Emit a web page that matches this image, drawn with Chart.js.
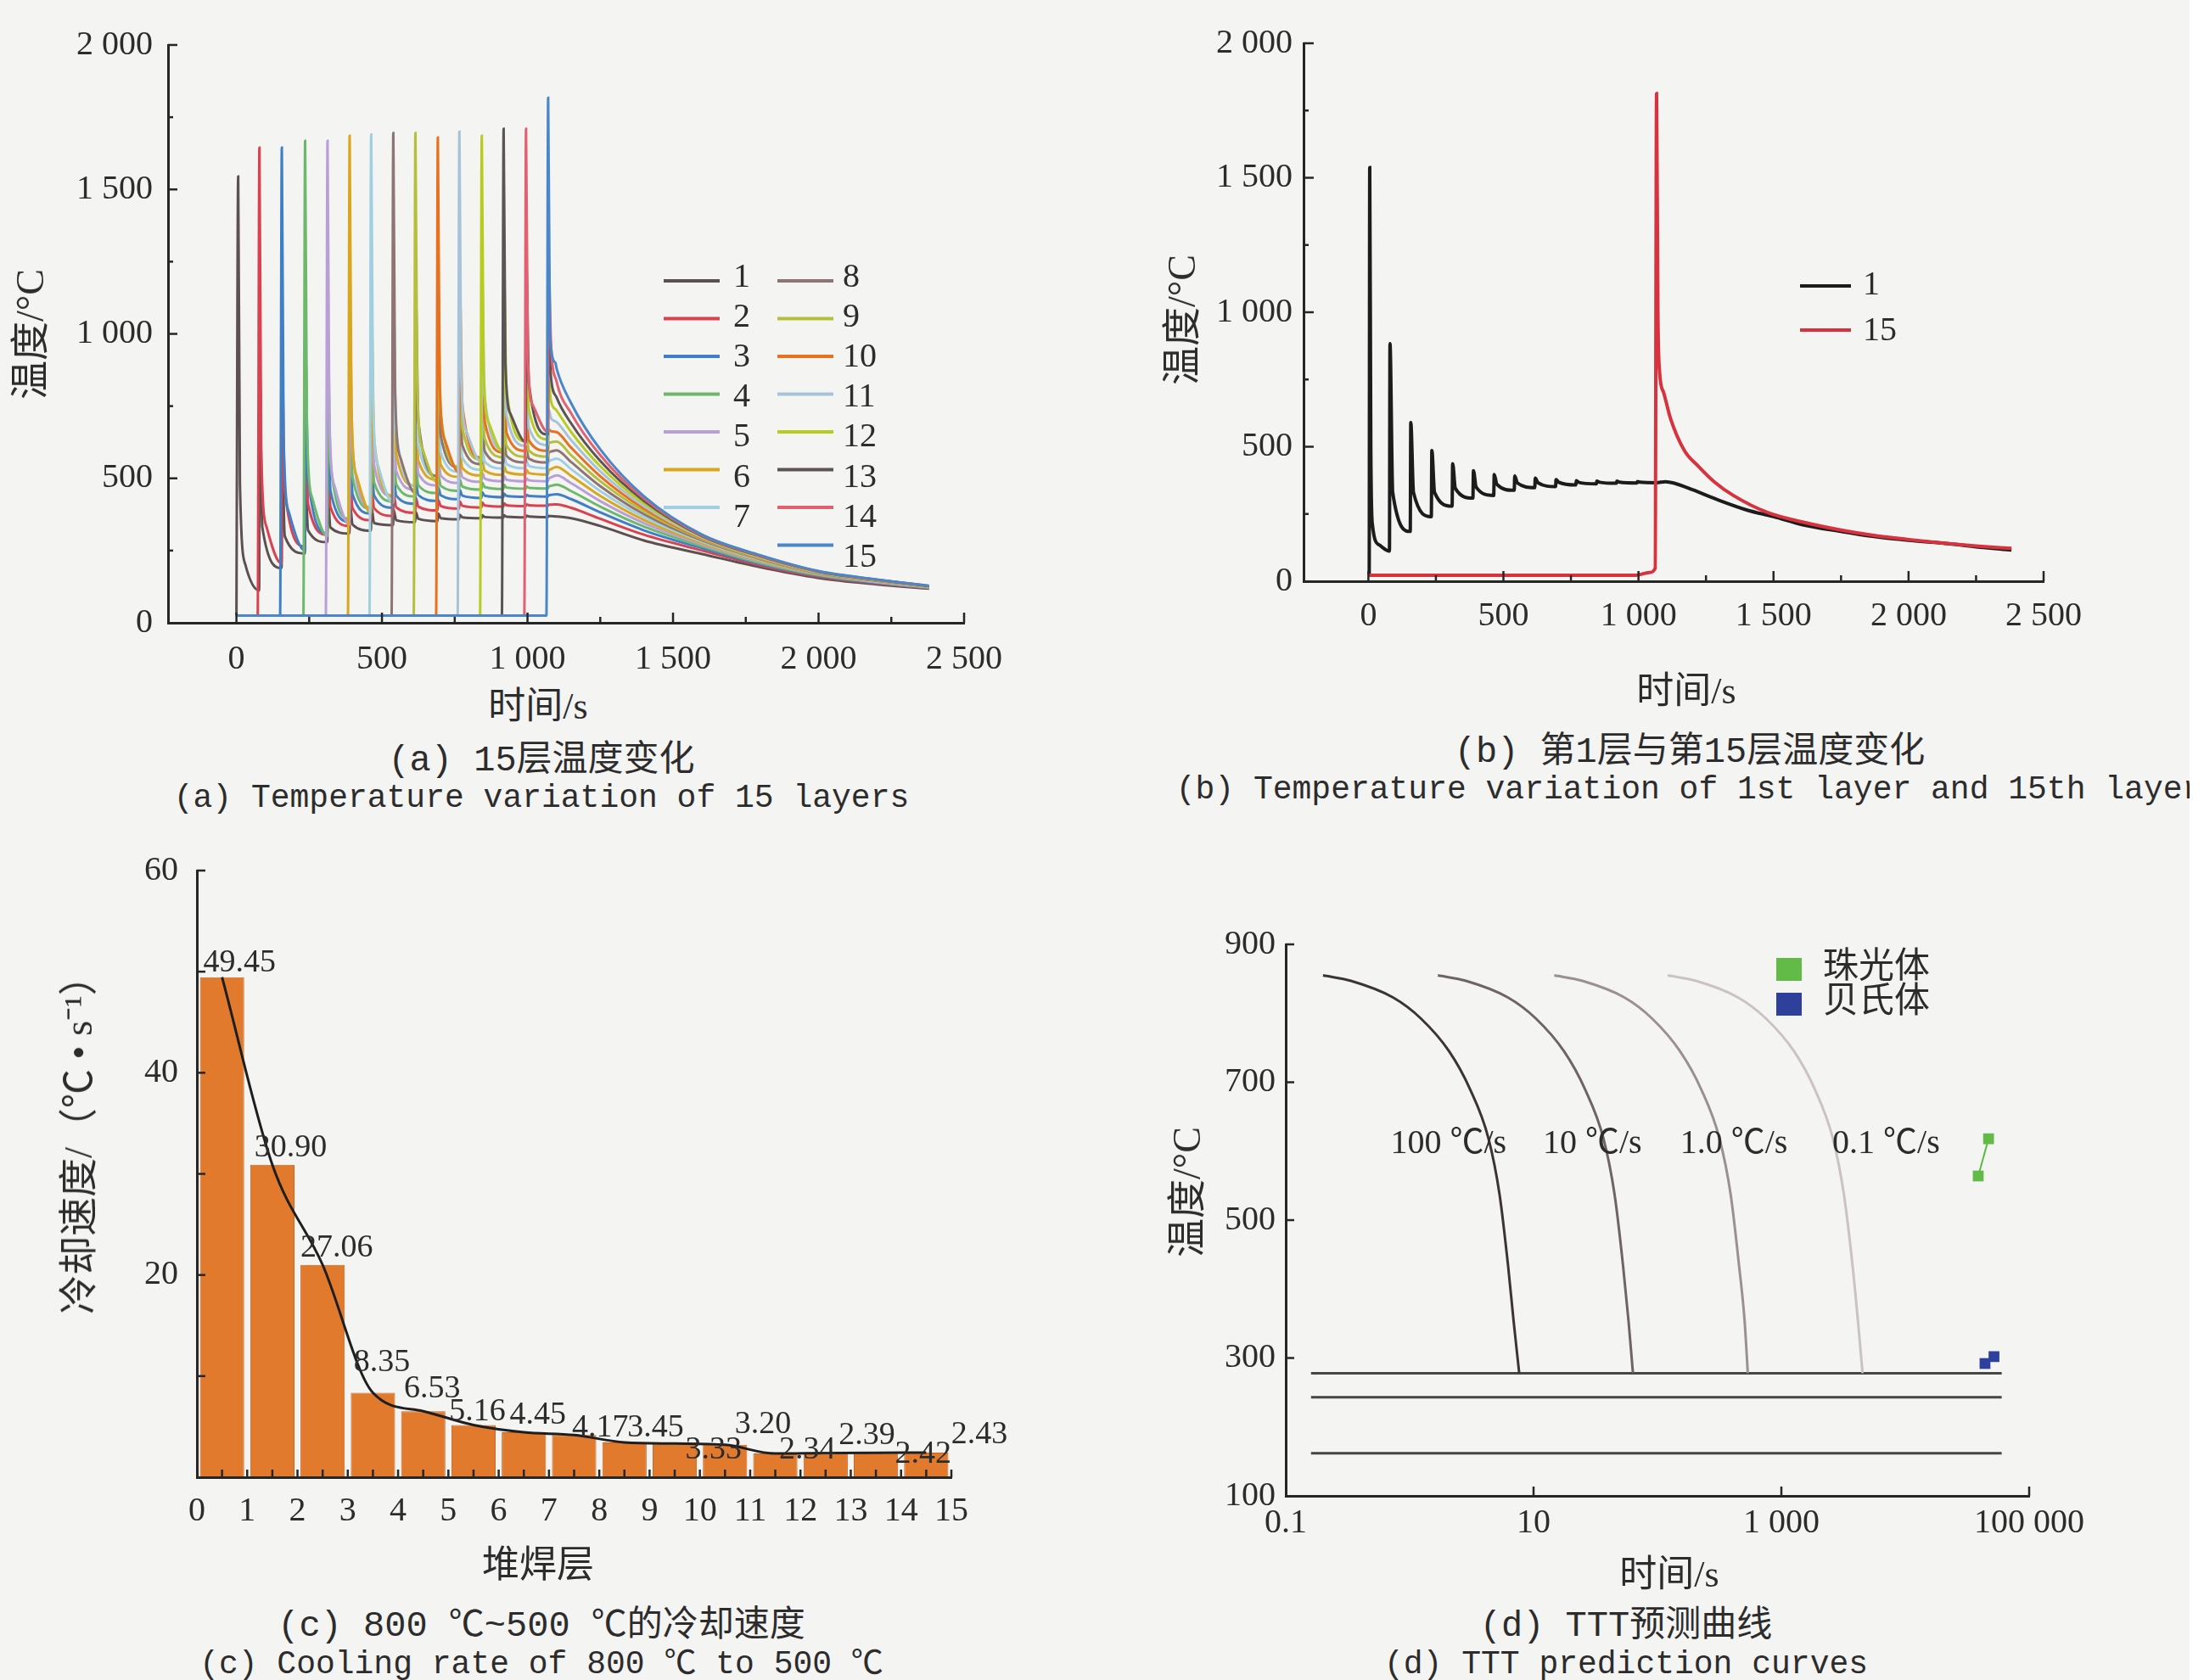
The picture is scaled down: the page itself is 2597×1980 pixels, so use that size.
<!DOCTYPE html>
<html>
<head>
<meta charset="utf-8">
<title>堆焊层温度与冷却速度</title>
<script src="https://cdn.jsdelivr.net/npm/chart.js@4.4.1/dist/chart.umd.min.js"></script>
<style>
  html, body { margin: 0; padding: 0; background: #f4f4f3; }
  #page { position: relative; width: 2597px; height: 1980px; background: #f4f4f3; overflow: hidden; }
  #edge { position: absolute; left: 2580px; top: 0; width: 17px; height: 1980px; background: #fff; }
  canvas { position: absolute; }
  .t { position: absolute; white-space: nowrap; color: #2c2c2c; transform: translate(-50%, -50%);
       font-family: "Liberation Serif", "Noto Sans CJK SC", serif; font-size: 44px; line-height: 1; }
  .v { transform: translate(-50%, -50%) rotate(-90deg); font-size: 46px; }
  .cap { font-family: "Liberation Mono", "Noto Sans CJK SC", monospace; font-size: 38px; }
  .cap.zh { font-size: 42px; }
</style>
</head>
<body>
<div id="page">
  <canvas id="chartA" width="1250" height="800" style="left:0;top:0"></canvas>
  <canvas id="chartB" width="1297" height="800" style="left:1300px;top:0"></canvas>
  <canvas id="chartC" width="1250" height="880" style="left:0;top:980px"></canvas>
  <canvas id="chartD" width="1297" height="880" style="left:1300px;top:980px"></canvas>

  <div class="t" style="left:634px;top:833px">时间/s</div>
  <div class="t v" style="left:36px;top:394px">温度/°C</div>
  <div class="t cap zh" style="left:638px;top:897px">(a) 15层温度变化</div>
  <div class="t cap" style="left:638px;top:941px">(a) Temperature variation of 15 layers</div>

  <div class="t" style="left:1987px;top:815px">时间/s</div>
  <div class="t v" style="left:1393px;top:377px">温度/°C</div>
  <div class="t cap zh" style="left:1991px;top:887px">(b) 第1层与第15层温度变化</div>
  <div class="t cap" style="left:1990px;top:931px">(b) Temperature variation of 1st layer and 15th layer</div>

  <div class="t" style="left:634px;top:1845px">堆焊层</div>
  <div class="t v" style="left:93px;top:1338px">冷却速度/（℃ • s⁻¹）</div>
  <div class="t cap zh" style="left:638px;top:1917px">(c) 800 ℃~500 ℃的冷却速度</div>
  <div class="t cap" style="left:638px;top:1962px">(c) Cooling rate of 800 ℃ to 500 ℃</div>

  <div class="t" style="left:1967px;top:1856px">时间/s</div>
  <div class="t v" style="left:1399px;top:1405px">温度/°C</div>
  <div class="t cap zh" style="left:1916px;top:1917px">(d) TTT预测曲线</div>
  <div class="t cap" style="left:1916px;top:1962px">(d) TTT prediction curves</div>
  <div id="edge"></div>
</div>

<script>
// ---------- (a) temperature of the 15 deposited layers ----------
const depositTimes = [6, 79, 156, 236, 313, 389, 463, 539, 615, 692, 766, 843, 918, 995, 1071];
const peakTemps = [1545, 1645, 1645, 1668, 1668, 1686, 1690, 1695, 1695, 1680, 1700, 1686, 1710, 1710, 1817];
const ambientTemp = 25;
const dropFast = [480, 600, 640, 690, 720, 750, 780, 800, 820, 840, 860, 880, 900, 920, 1000];
const dropSlow = [200, 330, 380, 430, 470, 505, 540, 570, 600, 630, 660, 690, 720, 750, 900];
// temperature just before each later deposit
const valleyTemps = [
    [112, 190, 240, 279, 309, 319, 338, 348, 352, 358, 362, 364, 365, 366],
    [205, 265, 305, 335, 355, 370, 381, 389, 395, 399, 402, 404, 405],
    [250, 310, 350, 378, 398, 412, 422, 428, 432, 435, 436, 437],
    [300, 360, 395, 420, 437, 449, 457, 461, 463, 464, 465],
    [340, 400, 437, 460, 475, 484, 488, 490, 490, 490],
    [380, 440, 475, 495, 505, 510, 512, 513, 513],
    [415, 475, 507, 523, 530, 534, 535, 535],
    [450, 508, 538, 549, 553, 555, 555],
    [485, 540, 565, 573, 575, 575],
    [520, 572, 590, 595, 595],
    [555, 600, 613, 615],
    [590, 628, 635],
    [625, 652],
    [660]
];
// reheating peak at each later deposit
const bumpTemps = [
    [883, 590, 486, 437, 411, 397, 391, 383, 378, 374, 372, 372, 371, 370],
    [905, 665, 555, 495, 460, 445, 433, 425, 420, 416, 413, 410, 409],
    [950, 710, 600, 540, 505, 487, 470, 460, 452, 447, 443, 441],
    [1000, 760, 640, 580, 540, 515, 497, 485, 478, 472, 470],
    [1040, 800, 680, 615, 570, 540, 520, 508, 500, 497],
    [1080, 840, 715, 645, 595, 563, 543, 530, 525],
    [1110, 875, 745, 668, 615, 580, 560, 555],
    [1140, 905, 770, 690, 630, 598, 585],
    [1160, 930, 790, 705, 645, 620],
    [1180, 950, 805, 715, 670],
    [1200, 965, 815, 740],
    [1215, 975, 840],
    [1230, 1000],
    [1250]
];
// about 10 s after each reheating peak
const afterBumpTemps = [
    [330, 300, 320, 330, 340, 345, 355, 360, 362, 365, 366, 367, 368, 369],
    [457, 413, 401, 397, 397, 400, 402, 404, 405, 406, 407, 407, 409],
    [502, 458, 445, 441, 440, 442, 441, 440, 440, 439, 439, 443],
    [552, 505, 486, 480, 476, 474, 472, 470, 468, 467, 474],
    [592, 546, 526, 517, 510, 504, 499, 495, 493, 503],
    [632, 585, 561, 547, 536, 527, 522, 518, 532],
    [666, 617, 590, 571, 558, 549, 543, 563],
    [698, 648, 615, 594, 578, 568, 593],
    [726, 675, 638, 614, 596, 625],
    [754, 698, 658, 631, 663],
    [780, 719, 675, 708],
    [804, 737, 766],
    [826, 846],
    [960]
];
const tailTimes = [1100, 1150, 1250, 1400, 1600, 1800, 2000, 2200, 2380];
const tailTemps = [
    [368, 362, 335, 285, 238, 192, 155, 133, 118],
    [410, 398, 360, 305, 250, 198, 159, 136, 120],
    [445, 428, 382, 320, 258, 203, 162, 138, 121],
    [478, 456, 402, 333, 265, 207, 165, 140, 122],
    [510, 483, 421, 345, 271, 211, 167, 141, 123],
    [540, 508, 439, 356, 276, 214, 169, 143, 124],
    [568, 532, 456, 366, 281, 217, 171, 144, 124],
    [597, 556, 473, 376, 285, 220, 172, 145, 125],
    [627, 580, 490, 386, 289, 222, 173, 146, 125],
    [660, 606, 507, 395, 292, 224, 174, 147, 126],
    [695, 632, 524, 404, 295, 226, 175, 148, 126],
    [735, 660, 542, 413, 298, 228, 176, 148, 127],
    [780, 690, 560, 422, 300, 230, 177, 149, 127],
    [835, 725, 580, 430, 302, 232, 178, 149, 128],
    [880, 760, 600, 438, 305, 234, 179, 150, 128]
];
const layerColors = ['#5c5050', '#d9424e', '#3f7fc6', '#6db86b', '#b89fd8', '#d8a71e', '#9fcfe0', '#8f7474',
    '#b4bf3c', '#e8711f', '#a6c3da', '#b6cc1f', '#5a5454', '#e2606f', '#4a86c8'];

// ---------- (b) layer 1 and layer 15 ----------
const layer1Times = [0, 3, 5, 9, 15, 40, 78, 80, 90, 155, 157, 167, 233, 235, 245, 310, 312, 322, 387, 389, 399,
    464, 466, 476, 540, 542, 552, 616, 618, 628, 693, 695, 705, 768, 770, 780, 844, 846, 856, 918, 920, 930,
    994, 996, 1006, 1066, 1100, 1130, 1200, 1300, 1400, 1500, 1608, 1750, 1866, 2000, 2124, 2250, 2381];
const layer1Temps = [22, 22, 1538, 500, 210, 135, 112, 883, 330, 185, 590, 330, 240, 486, 330, 279, 437, 345, 309, 411, 350,
    319, 397, 360, 338, 391, 365, 348, 383, 366, 352, 378, 368, 358, 374, 367, 362, 372, 368, 364, 372, 368,
    365, 371, 368, 366, 370, 365, 340, 300, 265, 240, 210, 185, 167, 152, 142, 128, 116];
const layer15Times = [0, 990, 1040, 1062, 1067, 1072, 1078, 1093, 1119, 1170, 1222, 1280, 1351, 1479, 1608, 1750, 1866, 2000, 2124, 2250, 2381];
const layer15Temps = [22, 22, 32, 48, 1813, 1000, 780, 702, 604, 486, 427, 370, 319, 255, 220, 190, 171, 155, 142, 131, 122];

// ---------- (c) cooling rate 800-500 ℃ ----------
const weldLayers = [1, 2, 3, 4, 5, 6, 7, 8, 9, 10, 11, 12, 13, 14, 15];
const coolingRates = [49.45, 30.90, 21.0, 8.35, 6.53, 5.16, 4.45, 4.17, 3.45, 3.33, 3.20, 2.34, 2.39, 2.42, 2.43];
const rateTexts = ['49.45', '30.90', '27.06', '8.35', '6.53', '5.16', '4.45', '4.17', '3.45', '3.33', '3.20', '2.34', '2.39', '2.42', '2.43'];

// ---------- (d) TTT prediction ----------
const cctTemps = [855, 847, 823, 792, 745, 690, 619, 537, 435, 354, 278];
const cct100Times = [0.20, 0.336, 0.733, 1.24, 2.08, 3.07, 4.32, 5.32, 6.22, 6.9, 7.66];
const cct10Times = [1.69, 2.85, 6.2, 10.5, 17.6, 26.0, 36.6, 45.1, 52.7, 58.4, 63.4];
const cct1Times = [14.7, 24.8, 54, 91, 152, 225, 316, 390, 455, 505, 536];
const cct01Times = [121, 205, 446, 755, 1265, 1860, 2600, 3200, 3750, 4150, 4520];
const rateNames = ['100 ℃/s', '10 ℃/s', '1.0 ℃/s', '0.1 ℃/s'];
const phaseLineTemps = [278, 243, 162];
const phaseLineSpan = [0.16, 60000];
const pearliteTimes = [47000, 38800];
const pearliteTemps = [618, 564];
const bainiteTimes = [52000, 44000];
const bainiteTemps = [302, 292];

// ---------- helpers ----------
Chart.defaults.font.family = '"Liberation Serif", "Noto Sans CJK SC", serif';
Chart.defaults.color = '#2c2c2c';
const serif = '"Liberation Serif", "Noto Sans CJK SC", serif';

const thousands = v => String(v).replace(/\B(?=(\d{3})+(?!\d))/g, ' ');

const axis = (o) => ({
    type: o.type || 'linear',
    min: o.min,
    max: o.max,
    offset: false,
    grid: { display: false, drawTicks: false },
    border: { display: true, color: '#262626', width: 3, z: 1 },
    ticks: {
        font: { size: 40 },
        color: '#2c2c2c',
        padding: o.pad,
        autoSkip: false,
        maxRotation: 0,
        callback: v => thousands(v)
    },
    afterBuildTicks: s => { s.ticks = o.labels.map(v => ({ value: v })); },
    afterFit: s => {
        if (s.isHorizontal()) s.height = o.size;
        else s.width = o.size;
    }
});

const pairs = (xs, ys) => xs.map((x, i) => ({ x: x, y: ys[i] }));

const layerPoints = (k) => {
    const d = depositTimes;
    const pts = [{ x: 0, y: ambientTemp }];
    if (d[k] - 6 > 0) pts.push({ x: d[k] - 6, y: ambientTemp });
    pts.push({ x: d[k], y: peakTemps[k] });
    pts.push({ x: d[k] + 6, y: dropFast[k] });
    pts.push({ x: d[k] + 25, y: dropSlow[k] });
    for (let j = k + 1; j < d.length; j++) {
        const i = j - k - 1;
        pts.push({ x: d[j] - 1, y: valleyTemps[k][i] });
        pts.push({ x: d[j] + 1, y: bumpTemps[k][i] });
        pts.push({ x: d[j] + 10, y: afterBumpTemps[k][i] });
    }
    tailTimes.forEach((t, i) => pts.push({ x: t, y: tailTemps[k][i] }));
    return pts;
};

// tick marks pointing into the plot
const innerTicks = {
    id: 'innerTicks',
    afterDatasetsDraw(chart, args, o) {
        const ctx = chart.ctx;
        ctx.save();
        ctx.strokeStyle = '#262626';
        ctx.lineWidth = 2.5;
        o.marks.forEach(m => {
            const s = chart.scales[m.axis];
            m.values.forEach(v => {
                const p = s.getPixelForValue(v);
                ctx.beginPath();
                if (s.isHorizontal()) {
                    ctx.moveTo(p, s.top);
                    ctx.lineTo(p, s.top - m.len);
                } else {
                    ctx.moveTo(s.right, p);
                    ctx.lineTo(s.right + m.len, p);
                }
                ctx.stroke();
            });
        });
        ctx.restore();
    }
};

// line-sample key, one or two columns
const lineKey = {
    id: 'lineKey',
    afterDraw(chart, args, o) {
        const ctx = chart.ctx;
        ctx.save();
        ctx.font = o.font;
        ctx.textBaseline = 'middle';
        ctx.fillStyle = '#2c2c2c';
        chart.data.datasets.forEach((ds, i) => {
            const col = i < o.split ? 0 : 1;
            const row = col ? i - o.split : i;
            const ly = o.lineY + row * o.lineStep;
            const ty = o.textY + row * o.textStep;
            ctx.strokeStyle = ds.borderColor;
            ctx.lineWidth = o.lineWidth;
            ctx.beginPath();
            ctx.moveTo(o.lineX[col], ly);
            ctx.lineTo(o.lineX[col] + o.lineLen, ly);
            ctx.stroke();
            ctx.fillText(ds.label, o.textX[col], ty);
        });
        ctx.restore();
    }
};

const common = (pad) => ({
    responsive: false,
    animation: false,
    devicePixelRatio: 1,
    layout: { padding: pad },
    plugins: { legend: { display: false }, tooltip: { enabled: false } }
});

// ---------- chart (a) ----------
const optsA = common({ left: 0, top: 53, right: 114, bottom: 0 });
optsA.scales = {
    x: axis({ min: -235, max: 2500, labels: [0, 500, 1000, 1500, 2000, 2500], pad: 19, size: 66 }),
    y: axis({ min: 0, max: 2000, labels: [0, 500, 1000, 1500, 2000], pad: 18, size: 198 })
};
optsA.plugins.innerTicks = {
    marks: [
        { axis: 'x', values: [0, 500, 1000, 1500, 2000, 2500], len: 12 },
        { axis: 'x', values: [250, 750, 1250, 1750, 2250], len: 7 },
        { axis: 'y', values: [500, 1000, 1500, 2000], len: 11 },
        { axis: 'y', values: [250, 750, 1250, 1750], len: 6 }
    ]
};
optsA.plugins.lineKey = {
    font: '40px ' + serif, split: 7, lineX: [782, 916], lineLen: 66, textX: [864, 993],
    lineY: 331, lineStep: 44.5, textY: 327, textStep: 47.2, lineWidth: 4
};

new Chart(document.getElementById('chartA'), {
    type: 'line',
    data: {
        datasets: depositTimes.map((t, k) => ({
            label: String(k + 1),
            data: layerPoints(k),
            borderColor: layerColors[k],
            borderWidth: 3,
            pointRadius: 0,
            cubicInterpolationMode: 'monotone',
            order: 14 - k
        }))
    },
    options: optsA,
    plugins: [innerTicks, lineKey]
});

// ---------- chart (b) ----------
const optsB = common({ left: 0, top: 51, right: 189, bottom: 0 });
optsB.scales = {
    x: axis({ min: -240, max: 2500, labels: [0, 500, 1000, 1500, 2000, 2500], pad: 17, size: 115 }),
    y: axis({ min: 0, max: 2000, labels: [0, 500, 1000, 1500, 2000], pad: 13, size: 236 })
};
optsB.plugins.innerTicks = {
    marks: [
        { axis: 'x', values: [0, 500, 1000, 1500, 2000, 2500], len: 12 },
        { axis: 'x', values: [250, 750, 1250, 1750, 2250], len: 7 },
        { axis: 'y', values: [500, 1000, 1500, 2000], len: 12 },
        { axis: 'y', values: [250, 750, 1250, 1750], len: 6 }
    ]
};
optsB.plugins.lineKey = {
    font: '40px ' + serif, split: 2, lineX: [821], lineLen: 60, textX: [895],
    lineY: 337, lineStep: 52, textY: 336, textStep: 54, lineWidth: 4
};

new Chart(document.getElementById('chartB'), {
    type: 'line',
    data: {
        datasets: [
            { label: '1', data: pairs(layer1Times, layer1Temps), borderColor: '#1c1c1c', borderWidth: 4,
              pointRadius: 0, cubicInterpolationMode: 'monotone', order: 1 },
            { label: '15', data: pairs(layer15Times, layer15Temps), borderColor: '#d8323e', borderWidth: 4,
              pointRadius: 0, cubicInterpolationMode: 'monotone', order: 0 }
        ]
    },
    options: optsB,
    plugins: [innerTicks, lineKey]
});

// ---------- chart (c) ----------
const barLabels = {
    id: 'barLabels',
    afterDatasetsDraw(chart, args, o) {
        const ctx = chart.ctx;
        const xs = chart.scales.x, ys = chart.scales.y;
        ctx.save();
        ctx.font = '38px ' + serif;
        ctx.fillStyle = '#2c2c2c';
        ctx.textAlign = 'center';
        ctx.textBaseline = 'middle';
        rateTexts.forEach((txt, i) => {
            const x = xs.getPixelForValue(weldLayers[i]) + o.dx[i];
            const y = ys.getPixelForValue(coolingRates[i]) + o.dy[i];
            ctx.fillText(txt, x, y);
        });
        ctx.restore();
    }
};

const optsC = common({ left: 0, top: 40, right: 129, bottom: 0 });
optsC.scales = {
    x: axis({ min: 0, max: 15, labels: [0, 1, 2, 3, 4, 5, 6, 7, 8, 9, 10, 11, 12, 13, 14, 15], pad: 16, size: 119 }),
    y: axis({ min: 0, max: 60, labels: [20, 40, 60], pad: 22, size: 232 })
};
optsC.plugins.innerTicks = {
    marks: [
        { axis: 'x', values: [0.5, 1, 1.5, 2, 2.5, 3, 3.5, 4, 4.5, 5, 5.5, 6, 6.5, 7, 7.5, 8, 8.5, 9, 9.5, 10,
            10.5, 11, 11.5, 12, 12.5, 13, 13.5, 14, 14.5, 15], len: 9 },
        { axis: 'y', values: [10, 20, 30, 40, 50, 60], len: 10 }
    ]
};
optsC.plugins.barLabels = {
    dx: [-9, -8, -13, -19, -19, -25, -13, 1, 7, 16, 15, 8, 19, 26, 33],
    dy: [-17, -20, -20, -35, -26, -15, -20, -8, -17, 8, -24, -4, -21, 2, -21]
};

new Chart(document.getElementById('chartC'), {
    type: 'bar',
    data: {
        datasets: [
            { type: 'line', data: pairs(weldLayers.map(n => n - 0.5), coolingRates), borderColor: '#1e1e1e',
              borderWidth: 3, pointRadius: 0, cubicInterpolationMode: 'monotone', order: 0 },
            { data: pairs(weldLayers.map(n => n - 0.5), coolingRates), backgroundColor: '#e27a2e',
              borderColor: '#c4641f', borderWidth: 1, barPercentage: 0.88, categoryPercentage: 1, order: 1 }
        ]
    },
    options: optsC,
    plugins: [innerTicks, barLabels]
});

// ---------- chart (d) ----------
const tttNotes = {
    id: 'tttNotes',
    afterDraw(chart, args, o) {
        const ctx = chart.ctx;
        const xs = chart.scales.x, ys = chart.scales.y;
        ctx.save();
        ctx.font = '40px ' + serif;
        ctx.fillStyle = '#2c2c2c';
        ctx.textAlign = 'center';
        ctx.textBaseline = 'middle';
        rateNames.forEach((txt, i) => {
            ctx.fillText(txt, xs.getPixelForValue(o.at[i]), ys.getPixelForValue(o.temp));
        });
        // square key
        ctx.font = '42px ' + serif;
        ctx.textAlign = 'left';
        chart.data.datasets.filter(ds => ds.inKey).forEach((ds, i) => {
            const y = o.keyY + i * o.keyStep;
            ctx.fillStyle = ds.pointBackgroundColor;
            ctx.fillRect(o.keyX - 15, y - 14, 30, 27);
            ctx.fillStyle = '#2c2c2c';
            ctx.fillText(ds.label, o.keyX + 40, y - 2);
        });
        ctx.restore();
    }
};

const optsD = common({ left: 0, top: 133, right: 206, bottom: 0 });
optsD.scales = {
    x: axis({ type: 'logarithmic', min: 0.1, max: 100000, labels: [0.1, 10, 1000, 100000], pad: 8, size: 97 }),
    y: axis({ min: 100, max: 900, labels: [100, 300, 500, 700, 900], pad: 12, size: 215 })
};
optsD.plugins.innerTicks = {
    marks: [
        { axis: 'x', values: [10, 1000, 100000], len: 11 },
        { axis: 'y', values: [300, 500, 700, 900], len: 10 }
    ]
};
optsD.plugins.tttNotes = { at: [2.06, 29.8, 414, 7000], temp: 610, keyX: 808, keyY: 163, keyStep: 41 };

const cctCurve = (times, color) => ({
    data: pairs(times, cctTemps), borderColor: color, borderWidth: 3, pointRadius: 0,
    cubicInterpolationMode: 'monotone'
});
const phaseLine = (t) => ({
    data: pairs(phaseLineSpan, [t, t]), borderColor: '#454545', borderWidth: 3, pointRadius: 0
});

new Chart(document.getElementById('chartD'), {
    type: 'line',
    data: {
        datasets: [
            { label: '珠光体', inKey: true, data: pairs(pearliteTimes, pearliteTemps), borderColor: '#5fb845',
              borderWidth: 2, pointStyle: 'rect', pointRadius: 9, pointBackgroundColor: '#62bb46',
              pointBorderWidth: 0 },
            { label: '贝氏体', inKey: true, data: pairs(bainiteTimes, bainiteTemps), borderColor: '#2f3f9c',
              borderWidth: 2, pointStyle: 'rect', pointRadius: 9, pointBackgroundColor: '#2f3f9c',
              pointBorderWidth: 0 },
            cctCurve(cct100Times, '#3b3434'),
            cctCurve(cct10Times, '#6e6464'),
            cctCurve(cct1Times, '#9b9091'),
            cctCurve(cct01Times, '#cbc2c4'),
            ...phaseLineTemps.map(phaseLine)
        ]
    },
    options: optsD,
    plugins: [innerTicks, tttNotes]
});
</script>
</body>
</html>
